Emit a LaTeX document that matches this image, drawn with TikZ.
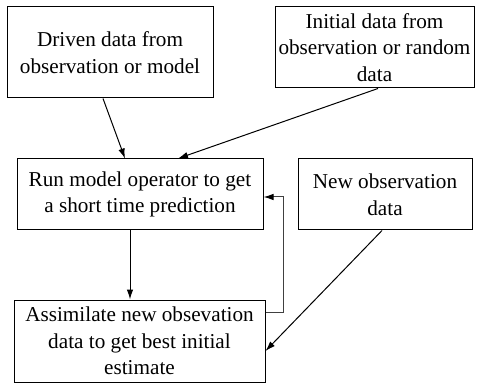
\documentclass[tikz,border=0pt]{standalone}
\usepackage{fontspec}
\setmainfont{Liberation Serif}
\usetikzlibrary{arrows.meta}
\begin{document}
\begin{tikzpicture}[x=1pt,y=-1pt,
  box/.style={draw,line width=1pt,align=center,inner sep=0pt,
    font=\fontsize{21.2}{26.5}\selectfont},
  arr/.style={line width=1pt,-{Latex[length=10pt,width=6.5pt]}},
  fb/.style={line width=1pt,draw=black!75,-{Latex[length=10pt,width=6.5pt,fill=black,color=black]}}]
\useasboundingbox (0,0) rectangle (482,390);
\node[box,minimum width=206pt,minimum height=91pt] (b1) at (110,52.5)
  {Driven data from\\observation or model};
\node[box,minimum width=199pt,minimum height=81pt] (b2) at (374.5,47.5)
  {Initial data from\\observation or random\\data};
\node[box,minimum width=246pt,minimum height=71pt] (b3) at (140,194.5)
  {Run model operator to get\\a short time prediction};
\node[box,minimum width=174pt,minimum height=71pt] (b4) at (385,194.5)
  {New observation\\data};
\node[box,minimum width=251pt,minimum height=82pt] (b5) at (139.5,341)
  {Assimilate new obsevation\\data to get best initial\\estimate};
\draw[arr] ([xshift=-7pt]b1.south) -- ([xshift=-15pt]b3.north);
\draw[arr] ([xshift=3.5pt]b2.south) -- ([xshift=38pt]b3.north);
\draw[arr] ([xshift=-10pt]b3.south) -- ([xshift=-9.5pt]b5.north);
\coordinate (fbs) at ([yshift=29pt]b5.east);
\coordinate (fbe) at ([yshift=-2.5pt]b3.east);
\coordinate (fbx) at (283,0);
\draw[fb] (fbs) -| (fbx |- fbe) -- (fbe);
\draw[arr] ([xshift=-3pt]b4.south) -- ([yshift=-10pt]b5.east);
\end{tikzpicture}
\end{document}
